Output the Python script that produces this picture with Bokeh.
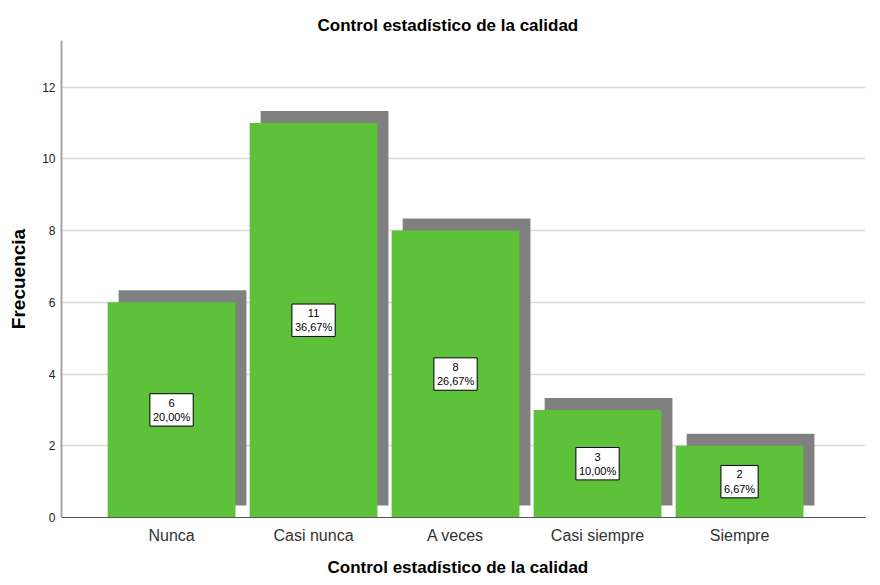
from bokeh.plotting import figure
from bokeh.models import Range1d, FixedTicker, ColumnDataSource, Label, Title
from bokeh.embed import file_html
from bokeh.resources import INLINE

categories = ["Nunca", "Casi nunca", "A veces", "Casi siempre", "Siempre"]
counts = [6, 11, 8, 3, 2]
percents = ["20,00%", "36,67%", "26,67%", "10,00%", "6,67%"]
y_ticks = [0, 2, 4, 6, 8, 10, 12]

FONT = "Liberation Sans"
GREEN = "#5EC13A"
SHADOW = "#808080"
BAR_W = 0.9
DX = 0.0775
DY = 0.334

xs = list(range(len(categories)))
src = ColumnDataSource(dict(
    x=xs,
    top=counts,
    sx=[x + DX for x in xs],
    stop=[c + DY for c in counts],
    sbottom=[DY] * len(counts),
))

p = figure(width=880, height=585, output_backend="svg", toolbar_location=None,
           x_range=Range1d(-0.775, 4.887), y_range=Range1d(0, 13.3),
           min_border_left=61, min_border_right=15, min_border_top=40, min_border_bottom=67)

p.title.text = "Control estadístico de la calidad"
p.title.align = "left"
p.title.offset = 256
p.title.text_font = FONT
p.title.text_font_size = "17px"
p.title.text_font_style = "bold"
p.title.text_color = "black"
p.title.standoff = 11

p.vbar(x="sx", top="stop", bottom="sbottom", width=BAR_W, source=src,
       fill_color=SHADOW, line_color=None)
p.vbar(x="x", top="top", bottom=0, width=BAR_W, source=src,
       fill_color=GREEN, line_color=None)

for i, (c, pc) in enumerate(zip(counts, percents)):
    p.add_layout(Label(x=i, y=c / 2, text=f"{c}\n{pc}", text_align="center",
                       text_baseline="middle", text_font=FONT, text_font_size="11px",
                       text_color="black", background_fill_color="white",
                       border_line_color="black", border_line_width=1, padding=3))

xtitle = Title(text="Control estadístico de la calidad", align="left", offset=266,
               text_font=FONT, text_font_size="17px", text_font_style="bold",
               text_color="black", standoff=18)
p.add_layout(xtitle, "below")

p.outline_line_color = None
p.background_fill_color = "white"
p.border_fill_color = "white"

p.xgrid.grid_line_color = None
p.ygrid.grid_line_color = "#d9d9d9"
p.ygrid.grid_line_width = 1.5
p.ygrid.ticker = FixedTicker(ticks=y_ticks[1:])

p.yaxis.ticker = FixedTicker(ticks=y_ticks)
p.yaxis.axis_line_color = "#a6a6a6"
p.yaxis.axis_line_width = 2
p.yaxis.major_tick_line_color = None
p.yaxis.minor_tick_line_color = None
p.yaxis.major_tick_out = 0
p.yaxis.major_tick_in = 0
p.yaxis.minor_tick_out = 0
p.yaxis.major_label_text_font = FONT
p.yaxis.major_label_text_font_size = "12px"
p.yaxis.major_label_text_color = "#222222"
p.yaxis.major_label_standoff = 6
p.yaxis.axis_label = "Frecuencia"
p.yaxis.axis_label_text_font = FONT
p.yaxis.axis_label_text_font_size = "19px"
p.yaxis.axis_label_text_font_style = "bold"
p.yaxis.axis_label_text_color = "black"
p.yaxis.axis_label_standoff = 10

p.xaxis.ticker = FixedTicker(ticks=xs)
p.xaxis.major_label_overrides = {i: c for i, c in enumerate(categories)}
p.xaxis.axis_line_color = "#555555"
p.xaxis.axis_line_width = 1
p.xaxis.major_tick_line_color = None
p.xaxis.minor_tick_line_color = None
p.xaxis.major_tick_out = 0
p.xaxis.major_tick_in = 0
p.xaxis.minor_tick_out = 0
p.xaxis.major_label_text_font = FONT
p.xaxis.major_label_text_font_size = "16px"
p.xaxis.major_label_text_color = "#333333"
p.xaxis.major_label_standoff = 9

open("out.html", "w").write(file_html(p, INLINE))
